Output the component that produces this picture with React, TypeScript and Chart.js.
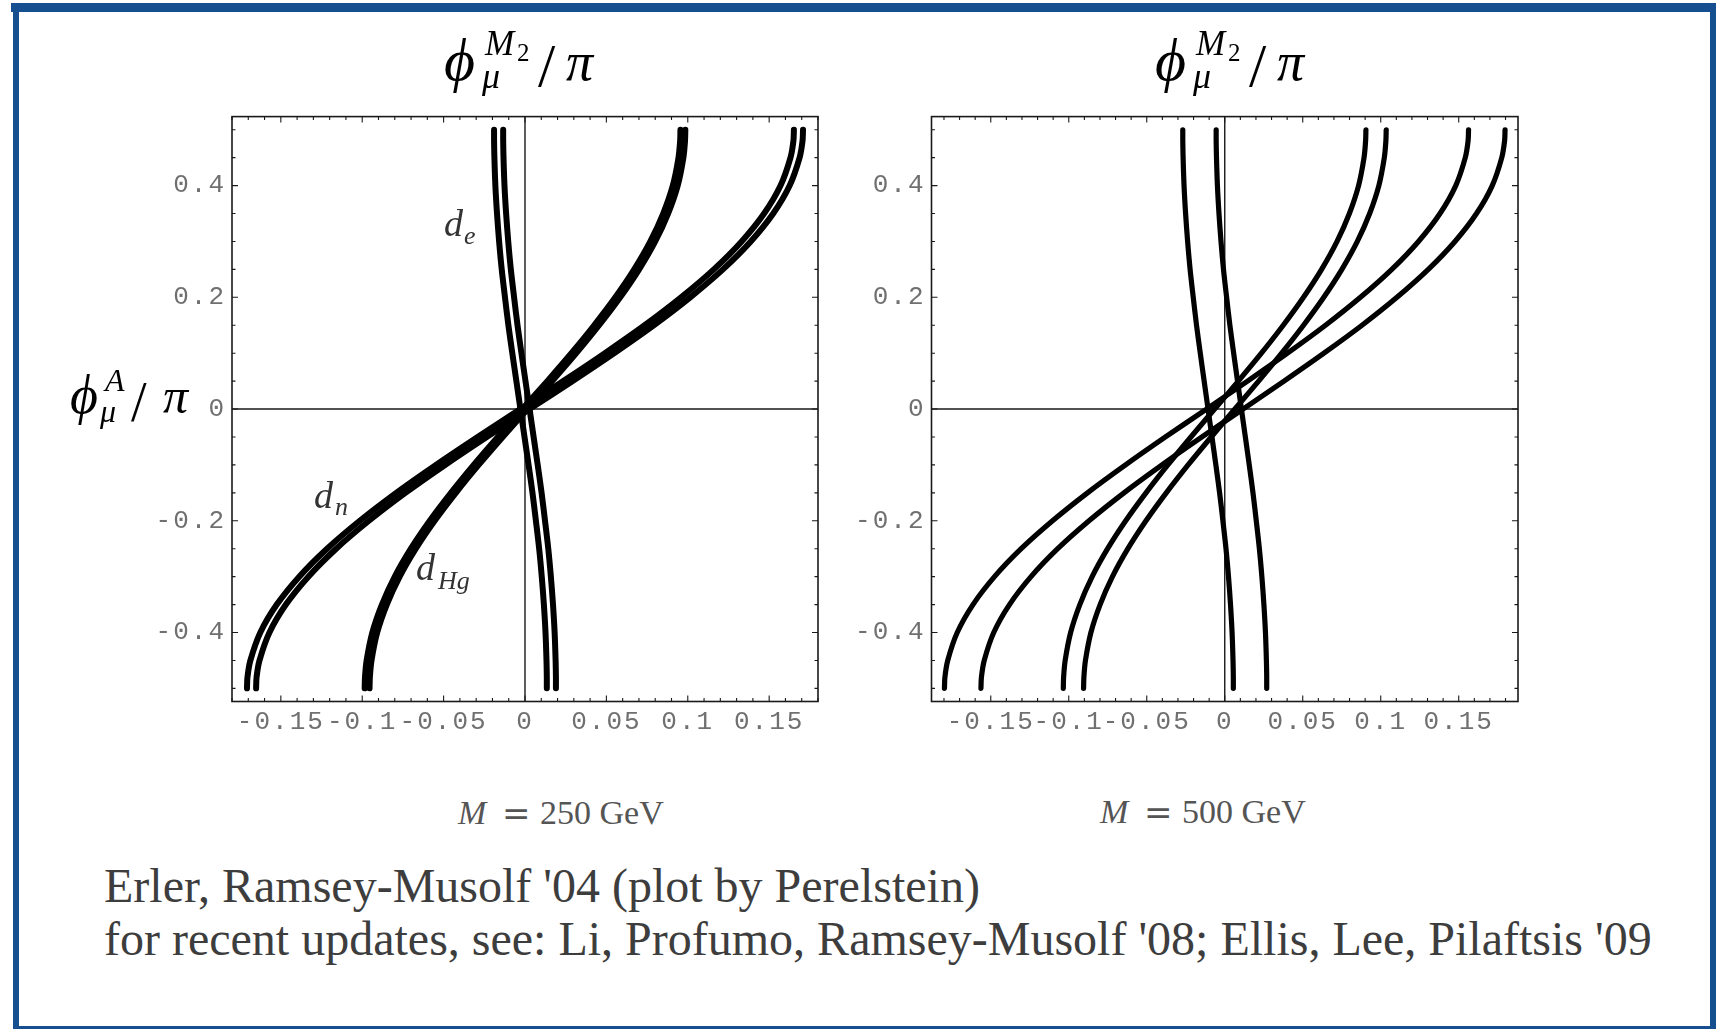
import React, { useEffect, useRef } from "react";
import { Chart, registerables } from "chart.js";

Chart.register(...registerables);

// ---------- data ----------
const Y_GRID = [-0.5, -0.48, -0.45, -0.4, -0.35, -0.3, -0.25, -0.2, -0.15, -0.1, -0.05, 0, 0.05, 0.1, 0.15, 0.2, 0.25, 0.3, 0.35, 0.4, 0.45, 0.48, 0.5];

// M = 250 GeV
const M250_DE_A = [0.0134, 0.0134, 0.0132, 0.0126, 0.0116, 0.0103, 0.0087, 0.0067, 0.0046, 0.0022, -0.0003, -0.0028, -0.0053, -0.0078, -0.0102, -0.0123, -0.0143, -0.0159, -0.0172, -0.0182, -0.0188, -0.019, -0.019];
const M250_DE_B = [0.019, 0.019, 0.0188, 0.0182, 0.0172, 0.0159, 0.0143, 0.0123, 0.0102, 0.0078, 0.0053, 0.0028, 0.0003, -0.0022, -0.0046, -0.0067, -0.0087, -0.0103, -0.0116, -0.0126, -0.0132, -0.0134, -0.0134];
const M250_HG_A = [-0.0985, -0.0983, -0.0973, -0.0938, -0.0879, -0.08, -0.0701, -0.0585, -0.0455, -0.0315, -0.0167, -0.0015, 0.0137, 0.0285, 0.0425, 0.0555, 0.0671, 0.077, 0.0849, 0.0908, 0.0943, 0.0953, 0.0955];
const M250_HG_B = [-0.0955, -0.0953, -0.0943, -0.0908, -0.0849, -0.077, -0.0671, -0.0555, -0.0425, -0.0285, -0.0137, 0.0015, 0.0167, 0.0315, 0.0455, 0.0585, 0.0701, 0.08, 0.0879, 0.0938, 0.0973, 0.0983, 0.0985];
const M250_DN_A = [-0.1708, -0.1705, -0.1687, -0.1626, -0.1525, -0.1387, -0.1216, -0.1015, -0.0791, -0.0547, -0.0291, -0.0028, 0.0235, 0.0491, 0.0735, 0.0959, 0.116, 0.1331, 0.1469, 0.157, 0.1631, 0.1649, 0.1652];
const M250_DN_B = [-0.1652, -0.1649, -0.1631, -0.157, -0.1469, -0.1331, -0.116, -0.0959, -0.0735, -0.0491, -0.0235, 0.0028, 0.0291, 0.0547, 0.0791, 0.1015, 0.1216, 0.1387, 0.1525, 0.1626, 0.1687, 0.1705, 0.1708];

// M = 500 GeV
const M500_DE_A = [0.0055, 0.0055, 0.0053, 0.0047, 0.0037, 0.0024, 0.0008, -0.0012, -0.0033, -0.0057, -0.0082, -0.0107, -0.0132, -0.0157, -0.0181, -0.0202, -0.0222, -0.0238, -0.0251, -0.0261, -0.0267, -0.0269, -0.0269];
const M500_DE_B = [0.0269, 0.0269, 0.0267, 0.0261, 0.0251, 0.0238, 0.0222, 0.0202, 0.0181, 0.0157, 0.0132, 0.0107, 0.0082, 0.0057, 0.0033, 0.0012, -0.0008, -0.0024, -0.0037, -0.0047, -0.0053, -0.0055, -0.0055];
const M500_HG_A = [-0.1035, -0.1033, -0.1023, -0.0988, -0.0929, -0.085, -0.0751, -0.0635, -0.0505, -0.0365, -0.0217, -0.0065, 0.0087, 0.0235, 0.0375, 0.0505, 0.0621, 0.072, 0.0799, 0.0858, 0.0893, 0.0903, 0.0905];
const M500_HG_B = [-0.0905, -0.0903, -0.0893, -0.0858, -0.0799, -0.072, -0.0621, -0.0505, -0.0375, -0.0235, -0.0087, 0.0065, 0.0217, 0.0365, 0.0505, 0.0635, 0.0751, 0.085, 0.0929, 0.0988, 0.1023, 0.1033, 0.1035];
const M500_DN_A = [-0.1797, -0.1794, -0.1776, -0.1715, -0.1614, -0.1476, -0.1305, -0.1104, -0.088, -0.0636, -0.038, -0.0117, 0.0146, 0.0402, 0.0646, 0.087, 0.1071, 0.1242, 0.138, 0.1481, 0.1542, 0.156, 0.1563];
const M500_DN_B = [-0.1563, -0.156, -0.1542, -0.1481, -0.138, -0.1242, -0.1071, -0.087, -0.0646, -0.0402, -0.0146, 0.0117, 0.038, 0.0636, 0.088, 0.1104, 0.1305, 0.1476, 0.1614, 0.1715, 0.1776, 0.1794, 0.1797];

const X_TICKS = [-0.15, -0.1, -0.05, 0, 0.05, 0.1, 0.15];
const X_TICK_LABELS = ["-0.15", "-0.1", "-0.05", "0", "0.05", "0.1", "0.15"];
const Y_TICKS = [-0.4, -0.2, 0, 0.2, 0.4];
const Y_TICK_LABELS = ["-0.4", "-0.2", "0", "0.2", "0.4"];

const CAPTION_1 = "Erler, Ramsey-Musolf '04 (plot by Perelstein)";
const CAPTION_2 = "for recent updates, see: Li, Profumo, Ramsey-Musolf '08; Ellis, Lee, Pilaftsis '09";

// ---------- styling ----------
const SERIF = "'Liberation Serif', 'Times New Roman', serif";
const MONO = "'Liberation Mono', 'Courier New', monospace";
const BLUE = "#154f8f";

const framePlugin = {
  id: "mmaFrame",
  beforeDraw(chart: any) {
    (chart.ctx as any).letterSpacing = "2px";
  },
  afterDraw(chart: any) {
    (chart.ctx as any).letterSpacing = "0px";
  },
  beforeDatasetsDraw(chart: any) {
    const { ctx, chartArea: a, scales } = chart;
    const xs = scales.x;
    const ys = scales.y;
    ctx.save();
    ctx.strokeStyle = "#1a1a1a";
    ctx.lineCap = "butt";
    ctx.lineWidth = 1.4;
    const x0 = xs.getPixelForValue(0);
    const y0 = ys.getPixelForValue(0);
    ctx.beginPath();
    ctx.moveTo(a.left, y0);
    ctx.lineTo(a.right, y0);
    ctx.moveTo(x0, a.top);
    ctx.lineTo(x0, a.bottom);
    ctx.stroke();
    ctx.lineWidth = 1.1;
    ctx.beginPath();
    for (let k = -30; k <= 30; k++) {
      const v = k * 0.01;
      if (v < xs.min || v > xs.max) continue;
      const p = xs.getPixelForValue(v);
      const len = k % 5 === 0 ? 6 : 3.5;
      ctx.moveTo(p, a.bottom);
      ctx.lineTo(p, a.bottom - len);
      ctx.moveTo(p, a.top);
      ctx.lineTo(p, a.top + len);
    }
    for (let k = -10; k <= 10; k++) {
      const v = k * 0.05;
      if (v < ys.min || v > ys.max) continue;
      const p = ys.getPixelForValue(v);
      const len = k % 4 === 0 ? 6 : 3.5;
      ctx.moveTo(a.left, p);
      ctx.lineTo(a.left + len, p);
      ctx.moveTo(a.right, p);
      ctx.lineTo(a.right - len, p);
    }
    ctx.stroke();
    ctx.lineWidth = 1.6;
    ctx.strokeRect(a.left, a.top, a.right - a.left, a.bottom - a.top);
    ctx.restore();
  },
};

type PlotProps = {
  left: number;
  top: number;
  width: number;
  height: number;
  yAxisW: number;
  xAxisH: number;
  padT: number;
  padR: number;
  xr: number;
  yr: number;
  lw: number;
  curves: number[][];
};

function Plot(p: PlotProps) {
  const ref = useRef<HTMLCanvasElement>(null);
  useEffect(() => {
    const datasets = p.curves.map((xs) => ({
      data: Y_GRID.map((y, i) => ({ x: xs[i], y })),
      showLine: true,
      borderColor: "#000",
      backgroundColor: "#000",
      borderWidth: p.lw,
      pointRadius: 0,
      tension: 0.3,
      borderCapStyle: "round" as const,
      borderJoinStyle: "round" as const,
      fill: false,
    }));
    const tickFont = { family: MONO, size: 26 };
    const chart = new Chart(ref.current as HTMLCanvasElement, {
      type: "scatter",
      data: { datasets },
      options: {
        responsive: false,
        animation: false,
        layout: { padding: { top: p.padT, right: p.padR, left: 0, bottom: 0 } },
        plugins: { legend: { display: false }, tooltip: { enabled: false } },
        scales: {
          x: {
            type: "linear",
            min: -p.xr,
            max: p.xr,
            grid: { display: false, drawTicks: false },
            border: { display: false },
            afterBuildTicks: (s: any) => {
              s.ticks = X_TICKS.map((v) => ({ value: v }));
            },
            afterFit: (s: any) => {
              s.height = p.xAxisH;
            },
            ticks: {
              callback: (_v: any, i: number) => X_TICK_LABELS[i],
              font: tickFont,
              color: "#707070",
              padding: 5,
              maxRotation: 0,
              minRotation: 0,
              autoSkip: false,
            },
          },
          y: {
            type: "linear",
            min: -p.yr,
            max: p.yr,
            grid: { display: false, drawTicks: false },
            border: { display: false },
            afterBuildTicks: (s: any) => {
              s.ticks = Y_TICKS.map((v) => ({ value: v }));
            },
            afterFit: (s: any) => {
              s.width = p.yAxisW;
            },
            ticks: {
              callback: (_v: any, i: number) => Y_TICK_LABELS[i],
              font: tickFont,
              color: "#707070",
              padding: 6,
              autoSkip: false,
            },
          },
        },
      } as any,
      plugins: [framePlugin],
    });
    return () => chart.destroy();
  }, []);
  return (
    <canvas
      ref={ref}
      width={p.width}
      height={p.height}
      style={{ position: "absolute", left: p.left, top: p.top, width: p.width, height: p.height }}
    />
  );
}

type Piece = { t: string; x: number; b: number; s: number; it?: boolean; f?: string; c?: string };

function Txt({ t, x, b, s, it, f, c }: Piece) {
  return (
    <div
      style={{
        position: "absolute",
        left: x,
        top: b - 0.8375 * s,
        fontSize: s,
        lineHeight: 1,
        fontFamily: f || SERIF,
        fontStyle: it ? "italic" : "normal",
        color: c || "#000",
        whiteSpace: "pre",
      }}
    >
      {t}
    </div>
  );
}

function Title({ dx }: { dx: number }) {
  return (
    <>
      <Txt t="ϕ" x={444 + dx} b={80} s={60} it />
      <Txt t="M" x={485 + dx} b={55} s={35} it />
      <Txt t="2" x={517 + dx} b={61} s={25} />
      <Txt t="μ" x={482 + dx} b={88} s={36} it />
      <Txt t="/" x={538 + dx} b={86} s={62} />
      <Txt t="π" x={566 + dx} b={80} s={54} it />
    </>
  );
}

function MassLabel({ x, b, digits }: { x: number; b: number; digits: string }) {
  const c = "#555";
  return (
    <>
      <Txt t="M" x={x} b={b} s={34} it c={c} />
      <Txt t="=" x={x + 44} b={b} s={34} c={c} f="'DejaVu Serif', serif" />
      <Txt t={digits + " GeV"} x={x + 82} b={b} s={34} c={c} />
    </>
  );
}

export default function App() {
  useEffect(() => {
    document.body.style.margin = "0";
  }, []);
  return (
    <div style={{ position: "absolute", left: 0, top: 0, width: 1716, height: 1029, background: "#fff", overflow: "hidden" }}>
      {/* slide frame */}
      <div style={{ position: "absolute", left: 11, top: 3, width: 1705, height: 9, background: BLUE }} />
      <div style={{ position: "absolute", left: 13, top: 3, width: 6, height: 1026, background: BLUE }} />
      <div style={{ position: "absolute", left: 1710, top: 3, width: 6, height: 1026, background: BLUE }} />
      <div style={{ position: "absolute", left: 13, top: 1026, width: 1703, height: 3, background: BLUE }} />

      <Plot
        left={130}
        top={95}
        width={710}
        height={650}
        yAxisW={102}
        xAxisH={43.5}
        padT={17.7}
        padR={22}
        xr={0.18}
        yr={0.5235}
        lw={6}
        curves={[M250_DE_A, M250_DE_B, M250_HG_A, M250_HG_B, M250_DN_A, M250_DN_B]}
      />
      <Plot
        left={830}
        top={95}
        width={710}
        height={650}
        yAxisW={101.5}
        xAxisH={43.5}
        padT={17.7}
        padR={22}
        xr={0.188}
        yr={0.5235}
        lw={5.2}
        curves={[M500_DE_A, M500_DE_B, M500_HG_A, M500_HG_B, M500_DN_A, M500_DN_B]}
      />

      {/* plot titles */}
      <Title dx={0} />
      <Title dx={711} />

      {/* y-axis label */}
      <Txt t="ϕ" x={70} b={413} s={54} it />
      <Txt t="A" x={105} b={391} s={32} it />
      <Txt t="μ" x={100} b={422} s={32} it />
      <Txt t="/" x={131} b={421} s={56} />
      <Txt t="π" x={163} b={413} s={50} it />

      {/* curve labels */}
      <Txt t="d" x={444} b={236} s={38} it c="#333" />
      <Txt t="e" x={464} b={245} s={26} it c="#333" />
      <Txt t="d" x={314} b={508} s={38} it c="#333" />
      <Txt t="n" x={335} b={516} s={26} it c="#333" />
      <Txt t="d" x={416} b={580} s={38} it c="#333" />
      <Txt t="Hg" x={438} b={590} s={26} it c="#333" />

      {/* mass labels */}
      <MassLabel x={458} b={824} digits="250" />
      <MassLabel x={1100} b={823} digits="500" />

      {/* caption */}
      <Txt t={CAPTION_1} x={104} b={902} s={48} c="#3d3d3d" />
      <Txt t={CAPTION_2} x={104} b={955} s={48} c="#3d3d3d" />
    </div>
  );
}
